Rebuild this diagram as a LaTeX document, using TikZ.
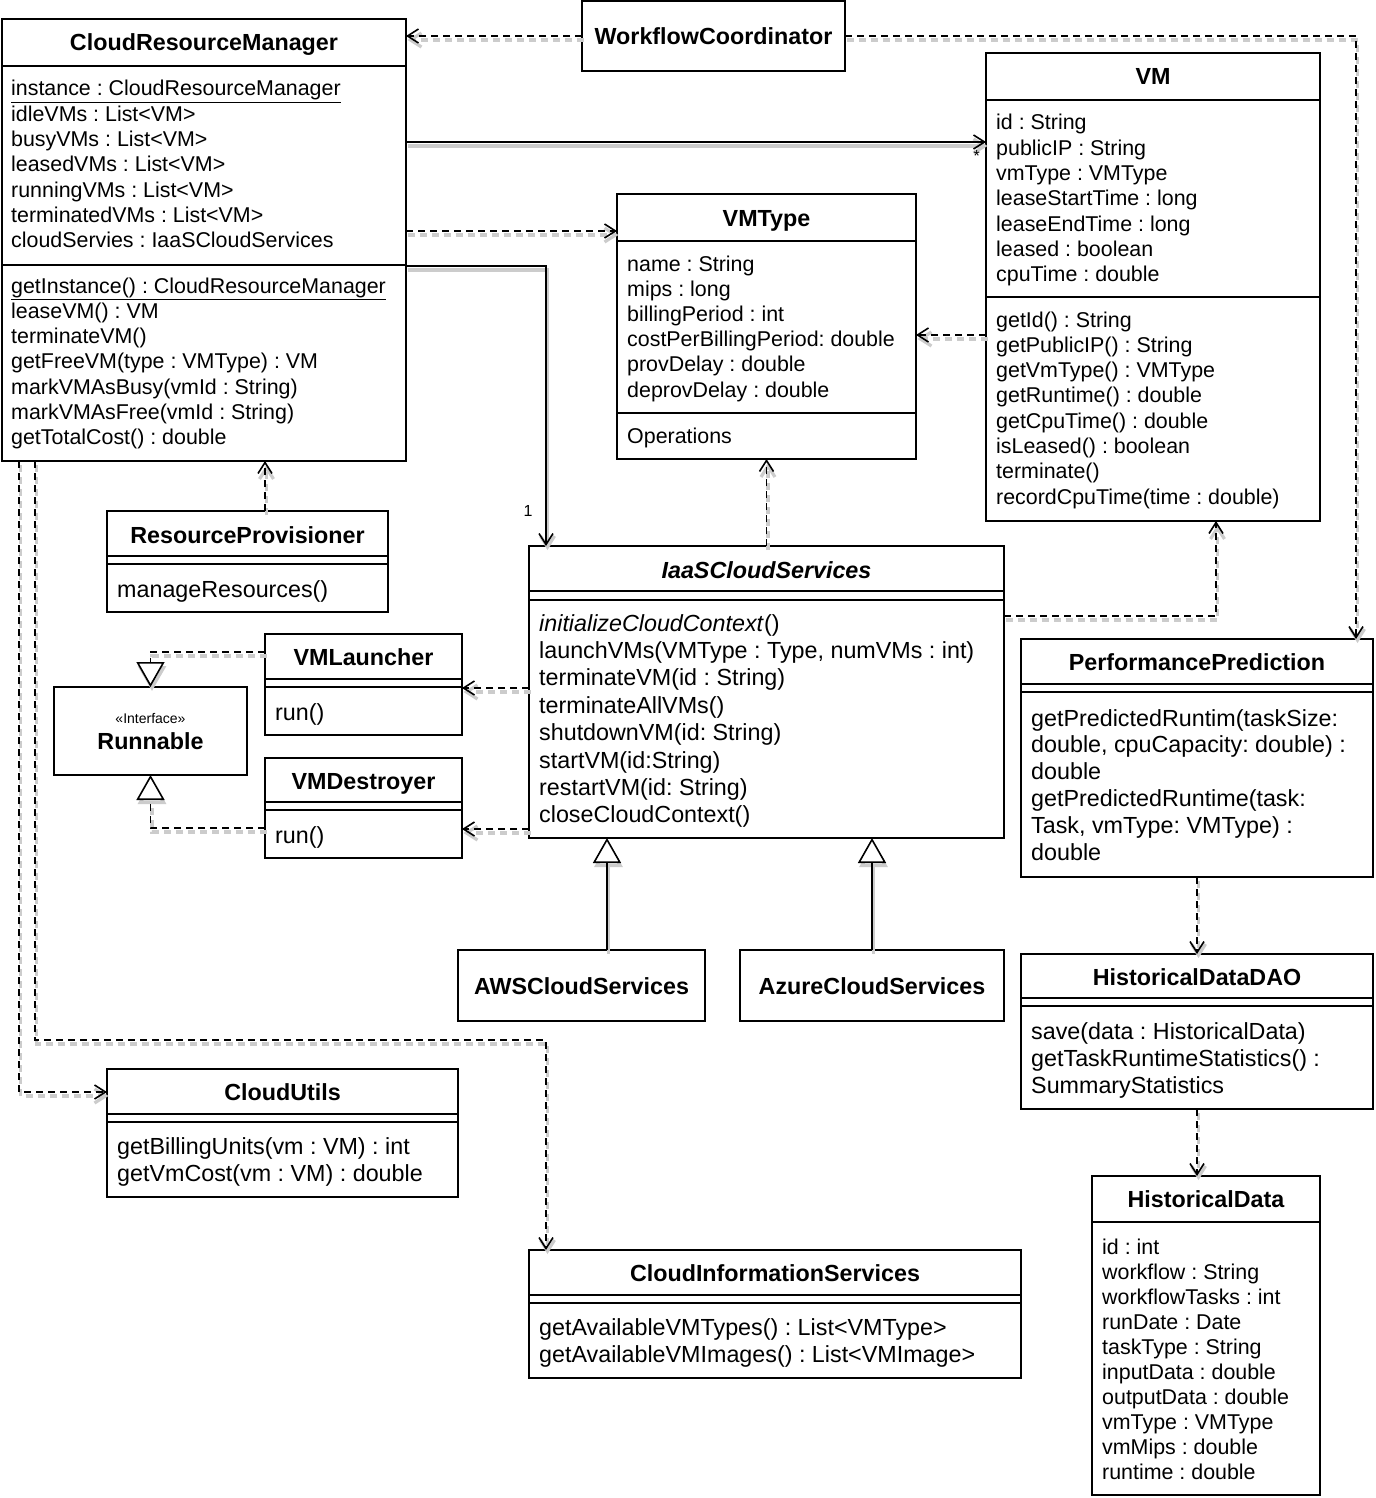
\documentclass[tikz,border=0pt]{standalone}
\usepackage{fontspec}
\setmainfont{Liberation Sans}
\usetikzlibrary{arrows.meta}
\tikzset{
  box/.style={draw, line width=1.6pt, anchor=north west, inner sep=0pt, outer sep=0pt},
  sepl/.style={line width=1.6pt},
  ttl/.style={font=\fontsize{23.3}{28}\selectfont\bfseries, inner sep=0pt, anchor=base},
  sm/.style={font=\fontsize{21.4}{25}\selectfont, inner sep=0pt, anchor=base west},
  lg/.style={font=\fontsize{23.3}{27}\selectfont, inner sep=0pt, anchor=base west},
  mult/.style={font=\fontsize{16}{18}\selectfont, inner sep=0pt},
  shadow/.style={preaction={draw=black!20, line width=3.2pt, transform canvas={shift={(1.5pt,-4pt)}}}},
  dshadow/.style={preaction={draw=black!20, line width=3.2pt, dash pattern=on 7pt off 5pt, transform canvas={shift={(1.5pt,-4pt)}}}},
  conn/.style={line width=1.6pt},
  barb/.style={-{Straight Barb[length=11pt,width=14pt]}},
  dep/.style={conn, dshadow, dash pattern=on 7pt off 5pt, barb},
  nav/.style={conn, shadow, barb},
  gen/.style={conn, shadow, -{Triangle[length=25pt,width=28pt,fill=white]}},
  real/.style={conn, dshadow, dash pattern=on 7pt off 5pt, -{Triangle[length=25pt,width=28pt,fill=white]}},
}
\newcommand\umlbox[5]{\node[box, minimum width={#4-#2}, minimum height={#5-#3}] (#1) at (#2,#3) {};}
\newcommand\hsep[3]{\draw[sepl] (#2,#1) -- (#3,#1);}
\newcommand\cmp[6]{\foreach \ltext [count=\li from 0] in {#6} {\node[#2] (#1-\li) at (#3,{#4+\li*#5}) {\ltext};}}
\begin{document}
\frenchspacing
\begin{tikzpicture}[x=1pt,y=-1pt]
\useasboundingbox (0,0) rectangle (1375,1498);
\fill[white] (0,0) rectangle (1375,1498);

% ---------- boxes ----------
\umlbox{crm}{2}{19}{406}{461}
\hsep{66}{2}{406}\hsep{265}{2}{406}
\node[ttl] (crm-t) at (204,51) {CloudResourceManager};
\cmp{crma}{sm}{11}{96}{25.3}{\underline{instance : CloudResourceManager}, idleVMs : List<VM>, busyVMs : List<VM>, leasedVMs : List<VM>, runningVMs : List<VM>, terminatedVMs : List<VM>, cloudServies : IaaSCloudServices}
\cmp{crmm}{sm}{11}{293}{25.3}{\underline{getInstance() : CloudResourceManager}, leaseVM() : VM, terminateVM(), getFreeVM(type : VMType) : VM, markVMAsBusy(vmId : String), markVMAsFree(vmId : String), getTotalCost() : double}

\umlbox{wc}{582}{1}{845}{71}
\node[ttl] (wc-t) at (713.5,45) {WorkflowCoordinator};

\umlbox{vm}{986}{53}{1320}{521}
\hsep{100}{986}{1320}\hsep{297}{986}{1320}
\node[ttl] (vm-t) at (1153,85) {VM};
\cmp{vma}{sm}{996}{130}{25.3}{id : String, publicIP : String, vmType : VMType, leaseStartTime : long, leaseEndTime : long, leased : boolean, cpuTime : double}
\cmp{vmm}{sm}{996}{327}{25.3}{getId() : String, getPublicIP() : String, getVmType() : VMType, getRuntime() : double, getCpuTime() : double, isLeased() : boolean, terminate(), recordCpuTime(time : double)}

\umlbox{vmt}{617}{194}{916}{459}
\hsep{241}{617}{916}\hsep{413}{617}{916}
\node[ttl] (vmt-t) at (766.5,226) {VMType};
\cmp{vmta}{sm}{627}{271}{25.2}{name : String, mips : long, billingPeriod : int, costPerBillingPeriod: double, provDelay : double, deprovDelay : double}
\node[sm] (vmt-op) at (627,443) {Operations};

\umlbox{rp}{107}{511}{388}{612}
\hsep{556}{107}{388}\hsep{564}{107}{388}
\node[ttl] (rp-t) at (247.5,543) {ResourceProvisioner};
\node[lg] (rp-m) at (117,597) {manageResources()};

\umlbox{iaas}{529}{546}{1004}{838}
\hsep{591}{529}{1004}\hsep{600}{529}{1004}
\node[ttl] (iaas-t) at (766.5,578) {\textit{IaaSCloudServices}};
\cmp{iaasm}{lg}{539}{631}{27.4}{\textit{initializeCloudContext}(), {launchVMs(VMType : Type, numVMs : int)}, terminateVM(id : String), terminateAllVMs(), shutdownVM(id: String), startVM(id:String), restartVM(id: String), closeCloudContext()}

\umlbox{vml}{265}{634}{462}{735}
\hsep{679}{265}{462}\hsep{687}{265}{462}
\node[ttl] (vml-t) at (363.5,665) {VMLauncher};
\node[lg] (vml-m) at (275,720) {run()};

\umlbox{vmd}{265}{758}{462}{858}
\hsep{802}{265}{462}\hsep{810}{265}{462}
\node[ttl] (vmd-t) at (363.5,789) {VMDestroyer};
\node[lg] (vmd-m) at (275,843) {run()};

\umlbox{run}{54}{687}{247}{775}
\node[font=\fontsize{14}{16}\selectfont, inner sep=0pt, anchor=base] (run-s) at (150.5,723) {«Interface»};
\node[ttl] (run-t) at (150.5,749) {Runnable};

\umlbox{aws}{458}{950}{705}{1021}
\node[ttl] (aws-t) at (581.5,994) {AWSCloudServices};
\umlbox{az}{740}{950}{1004}{1021}
\node[ttl] (az-t) at (872,994) {AzureCloudServices};

\umlbox{pp}{1021}{639}{1373}{877}
\hsep{684}{1021}{1373}\hsep{692}{1021}{1373}
\node[ttl] (pp-t) at (1197,670) {PerformancePrediction};
\cmp{ppm}{lg}{1031}{726}{26.9}{{getPredictedRuntim(taskSize:}, {double, cpuCapacity: double) :}, double, {getPredictedRuntime(task:}, {Task, vmType: VMType) :}, double}

\umlbox{dao}{1021}{954}{1373}{1109}
\hsep{998}{1021}{1373}\hsep{1006}{1021}{1373}
\node[ttl] (dao-t) at (1197,985) {HistoricalDataDAO};
\cmp{daom}{lg}{1031}{1039}{27}{save(data : HistoricalData), getTaskRuntimeStatistics() :, SummaryStatistics}

\umlbox{hd}{1092}{1176}{1320}{1495}
\hsep{1222}{1092}{1320}
\node[ttl] (hd-t) at (1206,1207) {HistoricalData};
\cmp{hda}{sm}{1102}{1254}{25}{id : int, workflow : String, workflowTasks : int, runDate : Date, taskType : String, inputData : double, outputData : double, vmType : VMType, vmMips : double, runtime : double}

\umlbox{cu}{107}{1069}{458}{1197}
\hsep{1114}{107}{458}\hsep{1122}{107}{458}
\node[ttl] (cu-t) at (282.5,1100) {CloudUtils};
\cmp{cum}{lg}{117}{1154}{27}{getBillingUnits(vm : VM) : int, getVmCost(vm : VM) : double}

\umlbox{cis}{529}{1250}{1021}{1378}
\hsep{1295}{529}{1021}\hsep{1303}{529}{1021}
\node[ttl] (cis-t) at (775,1281) {CloudInformationServices};
\cmp{cism}{lg}{539}{1335}{27.5}{getAvailableVMTypes() : List<VMType>, getAvailableVMImages() : List<VMImage>}

% ---------- connectors ----------
\draw[dep] (wc.west) -- (wc.west -| crm.east);
\draw[dep] (wc.east) -| ([xshift=159pt]pp.north);
\coordinate (p3) at ([yshift=-123pt]crm.north east);
\draw[nav] (p3) -- (p3 -| vm.west);
\node[mult, anchor=north east] (m-star) at (980,150) {*};
\coordinate (p4) at ([yshift=-212pt]crm.north east);
\draw[dep] (p4) -- (p4 -| vmt.west);
\coordinate (p5) at ([yshift=-247pt]crm.north east);
\draw[nav] (p5) -| ([xshift=17pt]iaas.north west);
\node[mult, anchor=base] (m-one) at (528,516) {1};
\coordinate (p6) at ([yshift=-282pt]vm.north west);
\draw[dep] (p6) -- (p6 -| vmt.east);
\draw[dep] (iaas.north) -- (vmt.south);
\coordinate (p8) at ([yshift=-70pt]iaas.north east);
\draw[dep] (p8) -| ([xshift=63pt]vm.south);
\coordinate (p9) at ([xshift=17.5pt]rp.north);
\draw[dep] (p9) -- (p9 |- crm.south);
\coordinate (p10) at ([yshift=-142pt]iaas.north west);
\draw[dep] (p10) -- (p10 -| vml.east);
\coordinate (p11) at ([yshift=-283pt]iaas.north west);
\draw[dep] (p11) -- (p11 -| vmd.east);
\coordinate (p12) at ([yshift=-18pt]vml.north west);
\draw[real] (p12) -| (run.north);
\coordinate (p13) at ([yshift=-70pt]vmd.north west);
\draw[real] (p13) -| (run.south);
\coordinate (p14) at ([xshift=25.5pt]aws.north);
\draw[gen] (p14) -- (p14 |- iaas.south);
\draw[gen] (az.north) -- (az.north |- iaas.south);
\coordinate (p16) at ([xshift=17pt]crm.south west);
\draw[dep] (p16) |- ([yshift=-23pt]cu.north west);
\coordinate (p17) at ([xshift=33pt]crm.south west);
\draw[dep] (p17) -- ++(0,579) -| ([xshift=17pt]cis.north west);
\draw[dep] (pp.south) -- (dao.north);
\draw[dep] (dao.south) -- (dao.south |- hd.north);
\end{tikzpicture}
\end{document}
